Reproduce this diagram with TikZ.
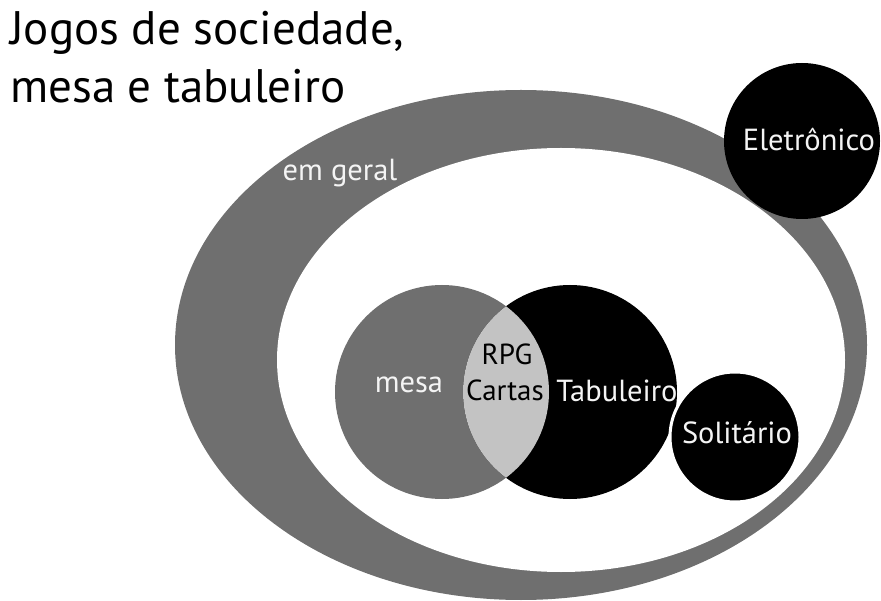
\documentclass[tikz,border=0pt]{standalone}
\usepackage{fontspec}
\setmainfont{PT Sans}
\definecolor{ringgray}{HTML}{6F6F6F}
\definecolor{lensgray}{HTML}{C3C3C3}
\definecolor{offwhite}{HTML}{F4F4F4}
\begin{document}
\begin{tikzpicture}[x=1pt,y=-1pt,
  title/.style={anchor=base west,inner sep=0pt,font=\fontsize{47}{54}\selectfont,text=black},
  lbl/.style={anchor=base,inner sep=0pt,font=\fontsize{30.5}{34}\selectfont,text=offwhite},
  lbldark/.style={anchor=base,inner sep=0pt,font=\fontsize{29}{33}\selectfont,text=black}]
\useasboundingbox (0,0) rectangle (881,601);
% outer ring
\fill[ringgray] (521,345) ellipse [x radius=346, y radius=255];
\fill[white] (561,360) ellipse [x radius=284, y radius=212];
% Eletronico
\fill[black] (802,141) circle [radius=78];
% mesa and Tabuleiro
\fill[ringgray] (442,392) circle [radius=107];
\fill[black] (570,392) circle [radius=107];
\begin{scope}
  \clip (442,392) circle [radius=107];
  \fill[lensgray] (570,392) circle [radius=107];
\end{scope}
% Solitario
\filldraw[fill=black,draw=white,line width=3pt] (735,437) circle [radius=65];
% texts
\node[title] (t1) at (10,45) {Jogos de sociedade,};
\node[title] (t2) at (10,103) {mesa e tabuleiro};
\node[lbl] (geral) at (340,181) {em geral};
\node[lbl] (eletr) at (809,151) {Eletrônico};
\node[lbl] (mesa) at (409,393) {mesa};
\node[lbldark] (rpg) at (507,365) {RPG};
\node[lbldark] (cartas) at (505,401) {Cartas};
\node[lbl] (tab) at (617,402) {Tabuleiro};
\node[lbl] (sol) at (737,443) {Solitário};
\end{tikzpicture}
\end{document}
